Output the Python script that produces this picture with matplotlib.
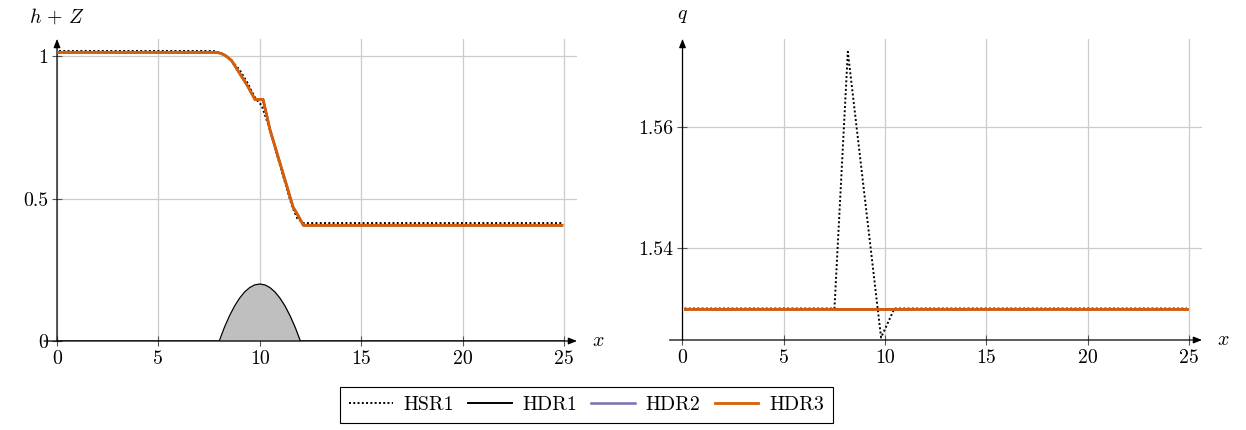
import matplotlib
matplotlib.use("Agg")
import matplotlib.pyplot as plt

plt.rcParams['font.family'] = 'serif'
plt.rcParams['font.serif'] = ['cmr10', 'DejaVu Serif']
plt.rcParams['mathtext.fontset'] = 'cm'
plt.rcParams['axes.unicode_minus'] = False

# ---------------- data ----------------
# left panel: free surface h+Z
x_hdr = [0.1, 7.9, 8.1, 8.3, 8.6, 9.0, 9.4, 9.76, 10.16, 10.5, 11.08, 11.64, 11.85, 12.15, 24.9]
h_hdr = [1.013, 1.013, 1.009, 1.002, 0.985, 0.94, 0.895, 0.848, 0.848, 0.742, 0.604, 0.47, 0.445, 0.406, 0.406]

x_hsr = [0.1, 7.7, 7.9, 8.2, 8.5, 9.0, 9.4, 9.8, 10.1, 10.5, 11.0, 11.6, 11.85, 12.15, 24.9]
h_hsr = [1.018, 1.018, 1.014, 1.006, 0.992, 0.952, 0.905, 0.85, 0.826, 0.74, 0.615, 0.47, 0.43, 0.414, 0.414]

# bottom topography
x_bump = [0, 8.0, 8.25, 8.5, 8.75, 9.0, 9.25, 9.5, 9.75, 10.0, 10.25, 10.5, 10.75, 11.0, 11.25, 11.5, 11.75, 12.0, 25]
z_bump = [0, 0.0, 0.047, 0.0875, 0.122, 0.15, 0.172, 0.1875, 0.197, 0.2, 0.197, 0.1875, 0.172, 0.15, 0.122, 0.0875, 0.047, 0.0, 0]

# right panel: discharge q
x_q_hsr = [0.1, 7.5, 8.16, 9.8, 10.46, 24.9]
q_hsr = [1.53, 1.53, 1.5724, 1.5252, 1.53, 1.53]
x_q_hdr = [0.1, 24.9]
q_hdr = [1.53, 1.53]

left_xticks = [0, 5, 10, 15, 20, 25]
left_xticklabels = ['0', '5', '10', '15', '20', '25']
left_yticks = [0, 0.5, 1]
left_yticklabels = ['0', '0.5', '1']
right_xticks = [0, 5, 10, 15, 20, 25]
right_xticklabels = ['0', '5', '10', '15', '20', '25']
right_yticks = [1.54, 1.56]
right_yticklabels = ['1.54', '1.56']

legend_labels = ['HSR1', 'HDR1', 'HDR2', 'HDR3']

# ---------------- styles ----------------
c_hdr2 = '#7570b3'
c_hdr3 = '#d95f02'
dot_style = (0, (1.0, 1.2))
FS = 14.3

W, H = 1246, 430
fig = plt.figure(figsize=(W / 100, H / 100), dpi=100)

def px_axes(x0, x1, ybot, ytop):
    return fig.add_axes([x0 / W, (H - ybot) / H, (x1 - x0) / W, (ybot - ytop) / H])

axL = px_axes(57, 577, 341, 39)
axR = px_axes(682.5, 1202, 340, 39)

def style_axes(ax, xlim, ylim, xt, xtl, yt, ytl, ylabel):
    ax.set_xlim(*xlim)
    ax.set_ylim(*ylim)
    for s in ['top', 'right', 'left', 'bottom']:
        ax.spines[s].set_visible(False)
    ax.set_xticks(xt)
    ax.set_xticklabels(xtl)
    ax.set_yticks(yt)
    ax.set_yticklabels(ytl)
    ax.tick_params(direction='inout', length=7, width=0.8, color='#555555',
                   labelsize=FS, pad=3)
    ax.grid(True, color='#cccccc', linewidth=0.9)
    ax.set_axisbelow(True)
    # axis lines with arrows
    ax.annotate('', xy=(1.0, 0), xytext=(-0.025, 0), xycoords='axes fraction',
                arrowprops=dict(arrowstyle='-|>,head_length=0.5,head_width=0.2',
                                color='black', lw=0.9, shrinkA=0, shrinkB=0),
                annotation_clip=False)
    ax.annotate('', xy=(0, 1.0), xytext=(0, 0), xycoords='axes fraction',
                arrowprops=dict(arrowstyle='-|>,head_length=0.5,head_width=0.2',
                                color='black', lw=0.9, shrinkA=0, shrinkB=0),
                annotation_clip=False)
    ax.text(0, 1.075, ylabel, transform=ax.transAxes, ha='center', va='center',
            fontsize=FS)
    ax.text(1.04, 0, r'$x$', transform=ax.transAxes, ha='center', va='center',
            fontsize=FS)

# left panel
axL.fill_between(x_bump, 0, z_bump, color='#bfbfbf', linewidth=0, zorder=2)
axL.plot(x_bump, z_bump, color='black', lw=0.9, zorder=3)
l1, = axL.plot(x_hsr, h_hsr, color='black', lw=1.4, linestyle=dot_style, zorder=4)
l2, = axL.plot(x_hdr, h_hdr, color='black', lw=1.4, zorder=5)
l3, = axL.plot(x_hdr, h_hdr, color=c_hdr2, lw=1.8, zorder=6)
l4, = axL.plot(x_hdr, h_hdr, color=c_hdr3, lw=2.0, zorder=7)
style_axes(axL, (0, 25.64), (0, 1.06), left_xticks, left_xticklabels,
           left_yticks, left_yticklabels, r'$h\,+\,Z$')

# right panel
axR.plot(x_q_hsr, q_hsr, color='black', lw=1.4, linestyle=dot_style, zorder=4)
axR.plot(x_q_hdr, q_hdr, color='black', lw=1.4, zorder=5)
axR.plot(x_q_hdr, q_hdr, color=c_hdr2, lw=1.8, zorder=6)
axR.plot(x_q_hdr, q_hdr, color=c_hdr3, lw=2.0, zorder=7)
style_axes(axR, (0, 25.64), (1.5248, 1.5745), right_xticks, right_xticklabels,
           right_yticks, right_yticklabels, r'$q$')

leg = fig.legend([l1, l2, l3, l4], legend_labels, loc='center',
                 bbox_to_anchor=(586.5 / W, 1 - 405 / H), ncol=4, fontsize=FS,
                 frameon=True, fancybox=False, framealpha=1, edgecolor='black',
                 handlelength=2.2, handletextpad=0.55, columnspacing=0.7,
                 borderpad=0.45, borderaxespad=0)
leg.get_frame().set_linewidth(0.8)

fig.savefig('out.png', dpi=100)
